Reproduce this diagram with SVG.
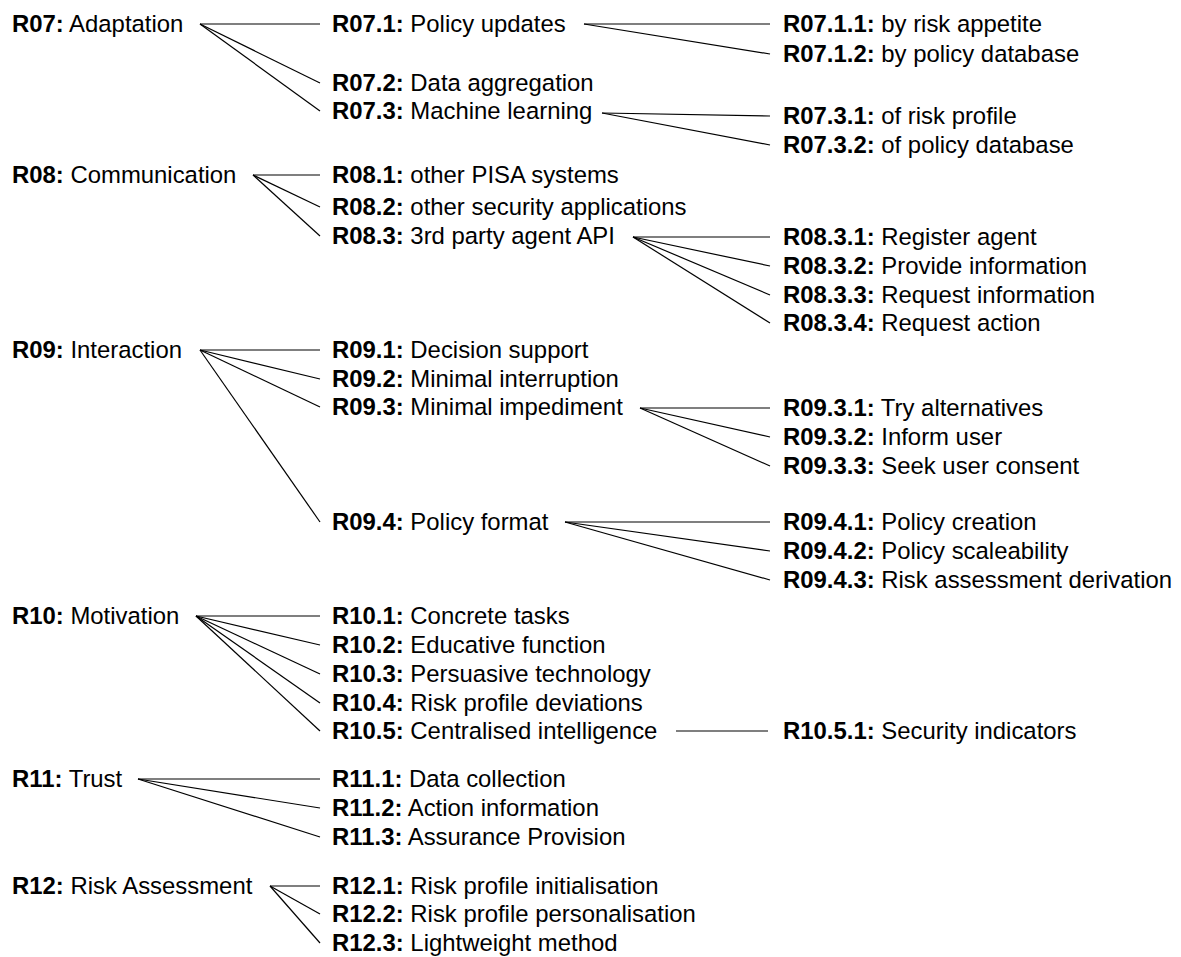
<svg xmlns="http://www.w3.org/2000/svg" width="1181" height="957" viewBox="0 0 1181 957">
<style>
text{font-family:"Liberation Sans",Arial,Helvetica,sans-serif;font-size:23.9px;fill:#000;}
.b{font-weight:bold;}
#connectors line{stroke:#000;stroke-width:1.2;}
</style>
<rect width="1181" height="957" fill="#fff"/>
<g id="connectors">
<line x1="200" y1="24" x2="320" y2="24"/>
<line x1="200" y1="24" x2="320" y2="83"/>
<line x1="200" y1="24" x2="320" y2="111"/>
<line x1="584" y1="24" x2="770" y2="24"/>
<line x1="584" y1="24" x2="770" y2="54"/>
<line x1="602" y1="113" x2="770" y2="116"/>
<line x1="602" y1="113" x2="770" y2="145"/>
<line x1="253" y1="175" x2="320" y2="175"/>
<line x1="253" y1="175" x2="320" y2="207"/>
<line x1="253" y1="175" x2="320" y2="236"/>
<line x1="633" y1="237" x2="770" y2="237"/>
<line x1="633" y1="237" x2="770" y2="266"/>
<line x1="633" y1="237" x2="770" y2="295"/>
<line x1="633" y1="237" x2="770" y2="323"/>
<line x1="200" y1="350" x2="320" y2="350"/>
<line x1="200" y1="350" x2="320" y2="379"/>
<line x1="200" y1="350" x2="320" y2="407"/>
<line x1="200" y1="350" x2="320" y2="522"/>
<line x1="640" y1="408" x2="770" y2="408"/>
<line x1="640" y1="408" x2="770" y2="437"/>
<line x1="640" y1="408" x2="770" y2="466"/>
<line x1="565" y1="522" x2="770" y2="522"/>
<line x1="565" y1="522" x2="770" y2="551"/>
<line x1="565" y1="522" x2="770" y2="580"/>
<line x1="196" y1="616" x2="320" y2="616"/>
<line x1="196" y1="616" x2="320" y2="645"/>
<line x1="196" y1="616" x2="320" y2="674"/>
<line x1="196" y1="616" x2="320" y2="703"/>
<line x1="196" y1="616" x2="320" y2="731"/>
<line x1="676" y1="731" x2="768" y2="731"/>
<line x1="138" y1="779" x2="320" y2="779"/>
<line x1="138" y1="779" x2="320" y2="808"/>
<line x1="138" y1="779" x2="320" y2="837"/>
<line x1="270" y1="886" x2="320" y2="886"/>
<line x1="270" y1="886" x2="320" y2="914"/>
<line x1="270" y1="886" x2="320" y2="943"/>
</g>
<g id="R07"><text x="12" y="32"><tspan class="b">R07:</tspan> Adaptation</text></g>
<g id="R08"><text x="12" y="183"><tspan class="b">R08:</tspan> Communication</text></g>
<g id="R09"><text x="12" y="358"><tspan class="b">R09:</tspan> Interaction</text></g>
<g id="R10"><text x="12" y="624"><tspan class="b">R10:</tspan> Motivation</text></g>
<g id="R11"><text x="12" y="787"><tspan class="b">R11:</tspan> Trust</text></g>
<g id="R12"><text x="12" y="894"><tspan class="b">R12:</tspan> Risk Assessment</text></g>

<g id="R07.1"><text x="332" y="32"><tspan class="b">R07.1:</tspan> Policy updates</text></g>
<g id="R07.2"><text x="332" y="91"><tspan class="b">R07.2:</tspan> Data aggregation</text></g>
<g id="R07.3"><text x="332" y="119"><tspan class="b">R07.3:</tspan> Machine learning</text></g>
<g id="R08.1"><text x="332" y="183"><tspan class="b">R08.1:</tspan> other PISA systems</text></g>
<g id="R08.2"><text x="332" y="215"><tspan class="b">R08.2:</tspan> other security applications</text></g>
<g id="R08.3"><text x="332" y="244"><tspan class="b">R08.3:</tspan> 3rd party agent API</text></g>
<g id="R09.1"><text x="332" y="358"><tspan class="b">R09.1:</tspan> Decision support</text></g>
<g id="R09.2"><text x="332" y="387"><tspan class="b">R09.2:</tspan> Minimal interruption</text></g>
<g id="R09.3"><text x="332" y="415"><tspan class="b">R09.3:</tspan> Minimal impediment</text></g>
<g id="R09.4"><text x="332" y="530"><tspan class="b">R09.4:</tspan> Policy format</text></g>
<g id="R10.1"><text x="332" y="624"><tspan class="b">R10.1:</tspan> Concrete tasks</text></g>
<g id="R10.2"><text x="332" y="653"><tspan class="b">R10.2:</tspan> Educative function</text></g>
<g id="R10.3"><text x="332" y="682"><tspan class="b">R10.3:</tspan> Persuasive technology</text></g>
<g id="R10.4"><text x="332" y="711"><tspan class="b">R10.4:</tspan> Risk profile deviations</text></g>
<g id="R10.5"><text x="332" y="739"><tspan class="b">R10.5:</tspan> Centralised intelligence</text></g>
<g id="R11.1"><text x="332" y="787"><tspan class="b">R11.1:</tspan> Data collection</text></g>
<g id="R11.2"><text x="332" y="816"><tspan class="b">R11.2:</tspan> Action information</text></g>
<g id="R11.3"><text x="332" y="845"><tspan class="b">R11.3:</tspan> Assurance Provision</text></g>
<g id="R12.1"><text x="332" y="894"><tspan class="b">R12.1:</tspan> Risk profile initialisation</text></g>
<g id="R12.2"><text x="332" y="922"><tspan class="b">R12.2:</tspan> Risk profile personalisation</text></g>
<g id="R12.3"><text x="332" y="951"><tspan class="b">R12.3:</tspan> Lightweight method</text></g>

<g id="R07.1.1"><text x="783" y="32"><tspan class="b">R07.1.1:</tspan> by risk appetite</text></g>
<g id="R07.1.2"><text x="783" y="62"><tspan class="b">R07.1.2:</tspan> by policy database</text></g>
<g id="R07.3.1"><text x="783" y="124"><tspan class="b">R07.3.1:</tspan> of risk profile</text></g>
<g id="R07.3.2"><text x="783" y="153"><tspan class="b">R07.3.2:</tspan> of policy database</text></g>
<g id="R08.3.1"><text x="783" y="245"><tspan class="b">R08.3.1:</tspan> Register agent</text></g>
<g id="R08.3.2"><text x="783" y="274"><tspan class="b">R08.3.2:</tspan> Provide information</text></g>
<g id="R08.3.3"><text x="783" y="303"><tspan class="b">R08.3.3:</tspan> Request information</text></g>
<g id="R08.3.4"><text x="783" y="331"><tspan class="b">R08.3.4:</tspan> Request action</text></g>
<g id="R09.3.1"><text x="783" y="416"><tspan class="b">R09.3.1:</tspan> Try alternatives</text></g>
<g id="R09.3.2"><text x="783" y="445"><tspan class="b">R09.3.2:</tspan> Inform user</text></g>
<g id="R09.3.3"><text x="783" y="474"><tspan class="b">R09.3.3:</tspan> Seek user consent</text></g>
<g id="R09.4.1"><text x="783" y="530"><tspan class="b">R09.4.1:</tspan> Policy creation</text></g>
<g id="R09.4.2"><text x="783" y="559"><tspan class="b">R09.4.2:</tspan> Policy scaleability</text></g>
<g id="R09.4.3"><text x="783" y="588"><tspan class="b">R09.4.3:</tspan> Risk assessment derivation</text></g>
<g id="R10.5.1"><text x="783" y="739"><tspan class="b">R10.5.1:</tspan> Security indicators</text></g>
</svg>
